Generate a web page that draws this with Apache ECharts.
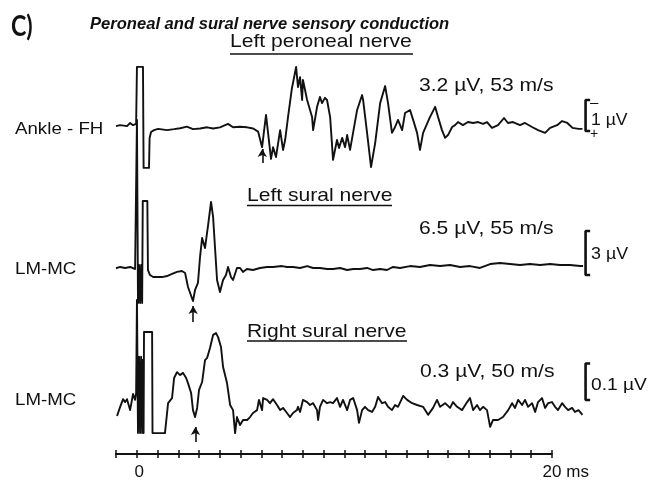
<!DOCTYPE html>
<html><head><meta charset="utf-8">
<script src="https://cdn.jsdelivr.net/npm/echarts@6/dist/echarts.min.js"></script>
<style>html,body{margin:0;padding:0;background:#fff}#c{width:659px;height:481px}</style>
</head><body><div id="c"></div>
<script>
// ---------- DATA (time in ms, amplitude in µV) ----------
const panelLabel = 'C)';
const titleText = 'Peroneal and sural nerve sensory conduction';
const traceNames = ['Left peroneal nerve', 'Left sural nerve', 'Right sural nerve'];
const siteLabels = ['Ankle - FH', 'LM-MC', 'LM-MC'];
const responseLabels = ['3.2 µV, 53 m/s', '6.5 µV, 55 m/s', '0.3 µV, 50 m/s'];
const scaleBarValues = [1, 3, 0.1];
const scaleBarLabels = ['1 µV', '3 µV', '0.1 µV'];
const onsetMs = [6.05, 2.72, 2.83];
const rulerMin = -1, rulerMax = 20, rulerStep = 1;
const rulerTickLabels = { 0: '0', 20: '20 ms' };

const leftPeroneal = [
[-1.00,0.03],[-0.80,0.06],[-0.47,0.03],[-0.32,0.13],[-0.18,0.06],[-0.03,0.10],
[0.01,1.94],[0.30,1.94],[0.33,-1.32],[0.59,-1.32],[0.62,-0.35],[0.69,-0.16],[0.83,-0.10],[1.03,-0.06],
[1.46,-0.10],[1.80,-0.07],[2.09,-0.04],[2.42,0.01],[2.71,-0.07],[3.05,-0.05],[3.39,-0.01],[3.68,-0.05],
[4.01,-0.01],[4.40,0.10],[4.64,-0.01],[4.98,0.01],[5.32,-0.01],[5.61,-0.05],[5.85,-0.15],[6.04,-0.65],
[6.23,0.39],[6.47,-1.03],[6.57,-0.65],[6.71,-0.97],[6.91,-0.10],[7.05,-0.74],[7.15,-0.42],[7.29,0.32],
[7.48,1.26],[7.53,1.42],[7.68,1.94],[7.77,1.29],[7.87,1.61],[7.97,0.87],[8.01,1.52],[8.21,0.87],
[8.45,0.32],[8.50,-0.10],[8.69,0.65],[8.83,0.97],[8.93,0.77],[9.07,0.94],[9.17,0.87],[9.32,0.32],
[9.46,-1.06],[9.65,-0.42],[9.75,-0.68],[9.90,-0.35],[10.04,-0.65],[10.14,-0.26],[10.28,-0.74],
[10.62,0.55],[10.86,1.03],[10.91,0.87],[11.10,-0.19],[11.29,-1.29],[11.49,-0.52],[11.73,0.77],
[11.97,1.32],[12.11,0.77],[12.30,-0.19],[12.45,0.00],[12.59,0.23],[12.79,-0.10],[12.93,0.45],
[13.17,0.55],[13.32,0.23],[13.51,-0.19],[13.65,-0.74],[13.80,-0.19],[14.13,0.32],[14.38,0.65],
[14.52,0.32],[14.71,-0.10],[14.86,-0.35],[15.00,-0.26],[15.20,0.00],[15.34,0.06],[15.48,0.16],
[15.72,0.06],[15.96,0.16],[16.21,0.13],[16.45,0.16],[16.69,0.10],[16.88,0.16],[17.12,-0.03],
[17.41,0.06],[17.70,0.29],[17.89,0.13],[18.13,0.16],[18.47,0.06],[18.71,0.13],[19.05,0.00],
[19.34,-0.10],[19.68,-0.19],[19.92,-0.03],[20.26,0.06],[20.50,0.19],[20.75,0.13],[21.00,-0.03],
[21.29,-0.06],[21.48,-0.06]
];

const leftSural = [
[-1.00,0.05],[-0.80,0.14],[-0.56,0.07],[-0.32,0.14],[-0.08,0.00],[-0.01,0.00],
[0.01,10.16],[0.06,-2.32],[0.11,0.27],[0.16,-2.32],[0.21,0.27],[0.26,-2.32],[0.29,4.64],[0.51,4.64],
[0.54,-0.07],[0.64,-0.41],[0.79,-0.55],[0.98,-0.55],[1.22,-0.55],[1.46,-0.48],[1.70,-0.34],[1.94,-0.20],
[2.18,-0.14],[2.33,-0.27],[2.47,-1.23],[2.71,-2.18],[2.81,-1.43],[2.95,-0.95],[3.05,0.82],[3.15,2.11],
[3.29,1.43],[3.44,3.00],[3.58,4.57],[3.68,3.54],[3.77,1.50],[3.87,-0.75],[4.01,-1.57],[4.16,-0.75],
[4.30,-0.41],[4.40,0.14],[4.54,-0.55],[4.64,-0.75],[4.83,0.07],[4.98,0.07],[5.12,-0.20],[5.31,0.00],
[5.60,-0.07],[5.94,0.07],[6.28,0.14],[6.57,0.14],[7.00,0.20],[7.24,0.14],[7.53,0.14],[7.87,0.07],
[8.21,0.20],[8.50,0.07],[8.83,0.07],[9.17,0.00],[9.46,0.00],[9.80,0.07],[10.14,-0.07],[10.43,0.00],
[10.76,0.00],[11.10,0.07],[11.39,-0.07],[11.73,0.00],[12.06,-0.07],[12.35,0.14],[12.69,0.07],
[13.17,0.20],[13.65,0.14],[14.13,0.27],[14.62,0.20],[15.10,0.27],[15.58,0.14],[16.06,0.20],
[16.54,0.07],[17.03,0.34],[17.51,0.41],[17.99,0.34],[18.47,0.27],[18.95,0.34],[19.44,0.27],
[19.92,0.34],[20.40,0.27],[20.88,0.27],[21.37,0.20],[21.51,0.20]
];

const rightSural = [
[-0.95,-0.030],[-0.80,-0.005],[-0.66,0.016],[-0.56,0.008],[-0.47,0.016],[-0.32,-0.014],[-0.18,0.030],
[-0.08,0.014],[-0.03,0.033],
[0.01,0.288],[0.06,-0.077],[0.11,0.132],[0.16,-0.077],[0.21,0.132],[0.26,-0.077],[0.30,0.124],
[0.33,-0.077],[0.35,0.200],[0.74,0.200],[0.76,-0.077],[1.36,-0.077],
[1.51,0.005],[1.70,0.019],[1.80,0.074],[1.94,0.090],[2.09,0.082],[2.23,0.088],[2.38,0.074],
[2.47,0.060],[2.62,0.033],[2.71,-0.014],[2.81,-0.033],[2.91,-0.008],[3.00,0.041],[3.15,0.063],
[3.29,0.123],[3.39,0.129],[3.53,0.156],[3.68,0.192],[3.82,0.197],[3.92,0.186],[4.06,0.159],
[4.16,0.104],[4.35,0.060],[4.50,0.000],[4.64,-0.014],[4.74,-0.077],[4.83,-0.033],[4.98,-0.055],
[5.12,-0.041],[5.32,-0.041],[5.46,-0.033],[5.60,-0.022],[5.80,-0.014],[5.89,0.014],[6.04,-0.014],
[6.09,0.019],[6.28,0.014],[6.42,0.005],[6.57,0.016],[6.76,0.000],[6.91,-0.014],[7.05,-0.008],
[7.24,-0.022],[7.39,-0.033],[7.53,-0.022],[7.72,-0.014],[7.77,-0.005],[7.87,-0.019],[8.01,0.014],
[8.21,0.008],[8.35,0.000],[8.50,0.005],[8.69,-0.014],[8.74,-0.041],[8.83,-0.005],[8.98,0.014],
[9.17,0.005],[9.32,0.008],[9.46,0.005],[9.65,0.019],[9.80,-0.005],[9.94,0.014],[10.14,-0.014],
[10.28,0.014],[10.43,0.019],[10.62,-0.014],[10.71,-0.049],[10.86,-0.014],[11.00,-0.005],
[11.15,-0.014],[11.34,-0.019],[11.49,-0.005],[11.63,0.022],[11.82,0.005],[11.97,0.008],
[12.11,-0.005],[12.30,-0.014],[12.45,0.000],[12.59,-0.005],[12.84,0.025],[13.03,0.014],
[13.27,0.005],[13.51,0.000],[13.80,-0.005],[14.04,-0.027],[14.28,-0.008],[14.47,0.014],
[14.62,-0.005],[14.86,0.005],[15.10,-0.008],[15.24,0.008],[15.44,-0.005],[15.68,-0.014],
[15.92,0.008],[16.06,0.019],[16.21,-0.014],[16.40,0.000],[16.54,-0.014],[16.69,-0.005],
[16.88,-0.014],[17.03,-0.060],[17.17,-0.041],[17.41,-0.041],[17.65,-0.033],[17.90,-0.014],
[18.09,0.005],[18.23,-0.008],[18.38,0.014],[18.57,0.000],[18.71,0.014],[18.86,-0.005],
[19.05,0.005],[19.20,-0.019],[19.34,0.008],[19.53,0.019],[19.68,-0.008],[19.82,0.005],
[20.01,0.008],[20.16,-0.005],[20.30,-0.014],[20.50,0.005],[20.64,-0.005],[20.79,-0.014],
[20.98,-0.008],[21.12,-0.019],[21.29,-0.014],[21.48,-0.027]
];

const traces = [leftPeroneal, leftSural, rightSural];

// ---------- LAYOUT / STYLE ----------
const W = 659, H = 481, INK = '#111';
const L = {
  plotLeft: 116, pxPerMs: 20.75,
  baseline: [127, 269, 405],      // px of 0 µV for each trace
  pxPerUv: [31, 14.67, 365],
  barBottomPx: [131, 275, 400],
  barX: [21.63, 21.85],
  arrowTipPx: [22, 37, 22],
  arrowLenPx: [14, 16, 15],
  rulerY: 454
};
const SANS = '"Liberation Sans", Arial, sans-serif';

const grids = [], xAxes = [], yAxes = [], series = [];
traces.forEach((d, k) => {
  grids.push({ left: L.plotLeft, top: 0, width: 26 * L.pxPerMs, height: H });
  xAxes.push({ type: 'value', gridIndex: k, min: -1, max: 25, show: false });
  const b = L.baseline[k], p = L.pxPerUv[k];
  yAxes.push({ type: 'value', gridIndex: k, min: -(H - b) / p, max: b / p, show: false });
  const tip = -L.arrowTipPx[k] / p, tail = -(L.arrowTipPx[k] + L.arrowLenPx[k]) / p;
  series.push({
    type: 'line', xAxisIndex: k, yAxisIndex: k, data: d, symbol: 'none', clip: false, silent: true,
    lineStyle: { color: INK, width: 1.9, join: 'round' },
    markLine: {
      silent: true, symbol: ['none', 'arrow'], symbolSize: [7, 8], label: { show: false },
      lineStyle: { color: INK, width: 1.6, type: 'solid' },
      data: [[{ coord: [onsetMs[k], tail] }, { coord: [onsetMs[k], tip] }]]
    }
  });
  const bot = (b - L.barBottomPx[k]) / p, top = bot + scaleBarValues[k];
  series.push({
    type: 'line', xAxisIndex: k, yAxisIndex: k, symbol: 'none', clip: false, silent: true,
    data: [[L.barX[1], top], [L.barX[0], top], [L.barX[0], bot], [L.barX[1], bot]],
    lineStyle: { color: INK, width: 2.6 }
  });
});

// ruler (time axis)
const rg = grids.length;
grids.push({ left: L.plotLeft, top: L.rulerY - 1, width: (rulerMax - rulerMin) * L.pxPerMs, height: 1 });
const rulerBase = { type: 'value', gridIndex: rg, min: rulerMin, max: rulerMax, interval: rulerStep,
  position: 'bottom', splitLine: { show: false } };
xAxes.push(Object.assign({}, rulerBase, {
  axisLine: { show: true, onZero: false, lineStyle: { color: INK, width: 2 } },
  axisTick: { show: true, length: 4, lineStyle: { color: INK, width: 1.5 } },
  axisLabel: {
    show: true, margin: 10, showMinLabel: true, showMaxLabel: true,
    formatter: v => {
      const key = Math.round(v);
      if (Math.abs(v - key) > 1e-6 || !(key in rulerTickLabels)) return '';
      return (key === 0 ? '{a|' : '{b|') + rulerTickLabels[key] + '}';
    },
    rich: {
      a: { fontSize: 17, fontFamily: SANS, color: INK, padding: [0, 0, 0, 5] },
      b: { fontSize: 17, fontFamily: SANS, color: INK, padding: [0, 0, 0, 28] }
    }
  }
}));
xAxes.push(Object.assign({}, rulerBase, {
  axisLine: { show: false, onZero: false },
  axisTick: { show: true, inside: true, length: 4, lineStyle: { color: INK, width: 1.5 } },
  axisLabel: { show: false }
}));
yAxes.push({ type: 'value', gridIndex: rg, show: false });

// texts
const txt = (text, x, y, font, sx) => ({
  type: 'text', x, y, scaleX: sx || 1, silent: true, z: 10,
  style: { text, font, fill: INK, textAlign: 'left', textVerticalAlign: 'middle' }
});
const uline = (x1, x2, y) => ({ type: 'line', silent: true, z: 10,
  shape: { x1, y1: y, x2, y2: y }, style: { stroke: INK, lineWidth: 1.6 } });
const F19 = '19px ' + SANS, F17 = '17px ' + SANS;
const graphic = [
  txt(panelLabel, 11, 27, 'bold 29px Lato, sans-serif', 0.8),
  txt(titleText, 90, 24, 'italic bold 17px ' + SANS, 0.975),
  txt(traceNames[0], 230, 41.5, F19, 1.11), uline(230, 413, 54),
  txt(traceNames[1], 247, 196, F19, 1.11), uline(247, 392, 205.5),
  txt(traceNames[2], 247, 331.5, F19, 1.11), uline(247, 407, 341),
  txt(responseLabels[0], 419, 86, F19, 1.11),
  txt(responseLabels[1], 419, 228.5, F19, 1.11),
  txt(responseLabels[2], 420, 372, F19, 1.11),
  txt(siteLabels[0], 15, 129, F17, 1.10),
  txt(siteLabels[1], 15, 269, F17, 1.10),
  txt(siteLabels[2], 15, 400, F17, 1.10),
  txt('\u2013', 590, 103, '15px ' + SANS, 1),
  txt('+', 590, 134, '14px ' + SANS, 1),
  txt(scaleBarLabels[0], 591, 121, '16px ' + SANS, 1.1),
  txt(scaleBarLabels[1], 591, 254, F17, 1.05),
  txt(scaleBarLabels[2], 591, 385, F17, 1.13)
];

const chart = echarts.init(document.getElementById('c'), null, { renderer: 'canvas', width: W, height: H });
chart.setOption({
  backgroundColor: '#fff', animation: false,
  grid: grids, xAxis: xAxes, yAxis: yAxes, series, graphic
});
</script></body></html>
